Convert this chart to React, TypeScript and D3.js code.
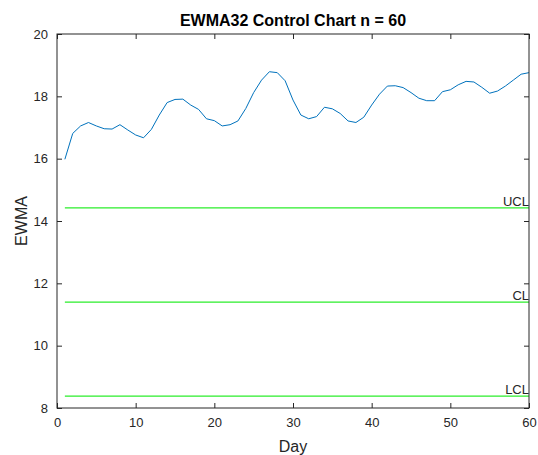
import React, { useEffect, useRef } from 'react';
import * as d3 from 'd3';

// EWMA values, days 1..60
const days = d3.range(1, 61);
const ewma = [
  15.98, 16.81, 17.05, 17.16, 17.05, 16.96, 16.95, 17.09, 16.92, 16.76,
  16.67, 16.94, 17.40, 17.80, 17.90, 17.91, 17.72, 17.58, 17.28, 17.22,
  17.05, 17.09, 17.21, 17.61, 18.12, 18.52, 18.79, 18.76, 18.50, 17.88,
  17.40, 17.28, 17.35, 17.65, 17.60, 17.45, 17.21, 17.16, 17.33, 17.72,
  18.07, 18.33, 18.34, 18.28, 18.12, 17.94, 17.86, 17.86, 18.15, 18.21,
  18.37, 18.48, 18.46, 18.29, 18.10, 18.17, 18.33, 18.52, 18.71, 18.76,
];
const limitNames = ['UCL', 'CL', 'LCL'];
const limitValues = [14.42, 11.4, 8.38];
const xTicks = [0, 10, 20, 30, 40, 50, 60];
const yTicks = [8, 10, 12, 14, 16, 18, 20];

function App() {
  const ref = useRef<SVGSVGElement>(null);

  useEffect(() => {
    const width = 538;
    const height = 455;
    const margin = { top: 34, right: 9, bottom: 47, left: 57 };
    const ink = '#262626';
    const font = 'Liberation Sans, Arial, sans-serif';

    const svg = d3.select(ref.current);
    svg.selectAll('*').remove();

    const x = d3.scaleLinear().domain([0, 60]).range([margin.left, width - margin.right]);
    const y = d3.scaleLinear().domain([8, 20]).range([height - margin.bottom, margin.top]);

    svg.append('rect')
      .attr('width', width).attr('height', height).attr('fill', '#fff');

    // control limit lines
    limitValues.forEach((v, i) => {
      svg.append('line')
        .attr('x1', x(1)).attr('x2', x(60))
        .attr('y1', y(v)).attr('y2', y(v))
        .attr('stroke', '#2bee2b').attr('stroke-width', 1.3);
      svg.append('text')
        .attr('x', x(60)).attr('y', y(v) - 2)
        .attr('text-anchor', 'end')
        .attr('font-family', font).attr('font-size', 13)
        .attr('fill', ink)
        .text(limitNames[i]);
    });

    // EWMA line
    const line = d3.line<number>()
      .x((d, i) => x(days[i]))
      .y(d => y(d));
    svg.append('path')
      .datum(ewma)
      .attr('d', line)
      .attr('fill', 'none')
      .attr('stroke', '#0072BD')
      .attr('stroke-width', 1)
      .attr('stroke-linejoin', 'round');

    // axes with inward ticks, mirrored on all sides
    const tick = -5;
    svg.append('g')
      .attr('transform', `translate(0,${y(8)})`)
      .call(d3.axisBottom(x).tickValues(xTicks).tickSize(tick).tickPadding(10))
      .call(g => g.select('.domain').remove());
    svg.append('g')
      .attr('transform', `translate(0,${y(20)})`)
      .call(d3.axisTop(x).tickValues(xTicks).tickSize(tick).tickFormat(() => ''))
      .call(g => g.select('.domain').remove());
    svg.append('g')
      .attr('transform', `translate(${x(0)},0)`)
      .call(d3.axisLeft(y).tickValues(yTicks).tickSize(tick).tickPadding(9))
      .call(g => g.select('.domain').remove());
    svg.append('g')
      .attr('transform', `translate(${x(60)},0)`)
      .call(d3.axisRight(y).tickValues(yTicks).tickSize(tick).tickFormat(() => ''))
      .call(g => g.select('.domain').remove());

    svg.selectAll('.tick line').attr('stroke', ink);
    svg.selectAll('.tick text')
      .attr('font-family', font).attr('font-size', 13).attr('fill', ink);

    svg.append('rect')
      .attr('x', x(0)).attr('y', y(20))
      .attr('width', x(60) - x(0)).attr('height', y(8) - y(20))
      .attr('fill', 'none').attr('stroke', ink).attr('stroke-width', 1);

    // title and labels
    svg.append('text')
      .attr('x', (x(0) + x(60)) / 2).attr('y', 26)
      .attr('text-anchor', 'middle')
      .attr('font-family', font).attr('font-size', 16).attr('font-weight', 'bold')
      .attr('fill', '#000')
      .text('EWMA32 Control Chart n = 60');
    svg.append('text')
      .attr('x', (x(0) + x(60)) / 2).attr('y', 452)
      .attr('text-anchor', 'middle')
      .attr('font-family', font).attr('font-size', 16)
      .attr('fill', ink)
      .text('Day');
    svg.append('text')
      .attr('transform', `translate(27,${(y(8) + y(20)) / 2}) rotate(-90)`)
      .attr('text-anchor', 'middle')
      .attr('font-family', font).attr('font-size', 16)
      .attr('fill', ink)
      .text('EWMA');
  }, []);

  return (
    <svg ref={ref} width={538} height={455} style={{ position: 'absolute', left: 0, top: 0 }}></svg>
  );
}

export default App;
